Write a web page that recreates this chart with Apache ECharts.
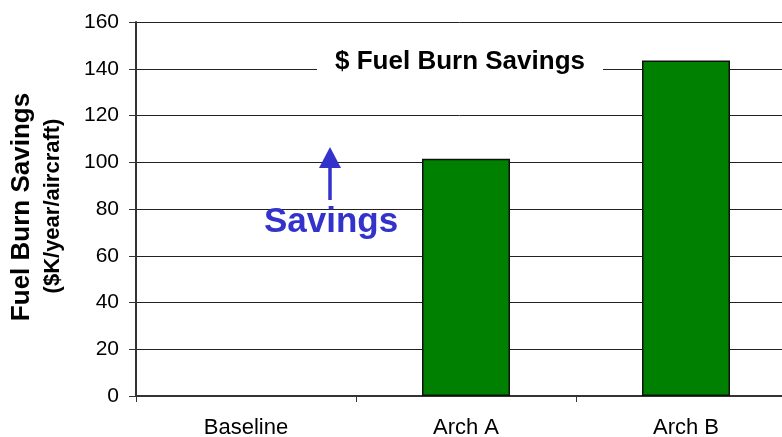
<!DOCTYPE html>
<html>
  <head>
    <meta charset="utf-8" />
    <script src="https://cdn.jsdelivr.net/npm/echarts@6/dist/echarts.min.js"></script>
  </head>
  <body>
    <style>
      #main, html, body {
        width: 100%;
        height: 100%;
        margin: 0;
        overflow: hidden;
        background: #fff;
      }
    </style>
    <div id="main"></div>
    <script type="text/javascript">
      // data
      var categories = ['Baseline', 'Arch A', 'Arch B'];
      var savings = [0, 101.5, 143.5];
      var yTicks = [0, 20, 40, 60, 80, 100, 120, 140, 160];

      var myChart = echarts.init(document.getElementById('main'));
      var font = 'Arial, "Liberation Sans", sans-serif';

      var option = {
        animation: false,
        // the third category runs past the right edge of the picture
        grid: { left: 136, width: 660, top: 22, bottom: 41, outerBoundsMode: 'none' },
        xAxis: {
          type: 'category',
          data: categories,
          axisLine: { lineStyle: { color: '#333', width: 2 } },
          axisTick: { show: true, length: 6, lineStyle: { color: '#333' } },
          axisLabel: { color: '#000', fontFamily: font, fontSize: 22, margin: 21 }
        },
        yAxis: {
          type: 'value',
          min: yTicks[0],
          max: yTicks[yTicks.length - 1],
          interval: 20,
          axisLine: { show: true, lineStyle: { color: '#333', width: 2 } },
          axisTick: { show: true, length: 7, lineStyle: { color: '#333' } },
          axisLabel: { color: '#000', fontFamily: font, fontSize: 21, margin: 17 },
          splitLine: { lineStyle: { color: '#222', width: 1 } }
        },
        series: [{
          type: 'bar',
          data: savings.map(function (v) {
            return { value: v, itemStyle: { borderWidth: v ? 1.5 : 0 } };
          }),
          barWidth: '40%',
          itemStyle: { color: '#008000', borderColor: '#111' }
        }],
        graphic: [
          {
            type: 'text', x: 460, y: 62, z: 100,
            style: {
              text: '$ Fuel Burn Savings', fill: '#000', font: 'bold 26px ' + font,
              align: 'center', verticalAlign: 'middle',
              backgroundColor: '#fff', padding: [4, 18, 4, 18]
            }
          },
          {
            type: 'text', x: 331, y: 222, z: 100,
            style: {
              text: 'Savings', fill: '#3333cc', font: 'bold 35px ' + font,
              align: 'center', verticalAlign: 'middle'
            }
          },
          {
            type: 'line', z: 100,
            shape: { x1: 330, y1: 200, x2: 330, y2: 165 },
            style: { stroke: '#3333cc', lineWidth: 3.5 }
          },
          {
            type: 'polygon', z: 100,
            shape: { points: [[330, 147], [319, 168], [341, 168]] },
            style: { fill: '#3333cc' }
          },
          {
            type: 'text', x: 22, y: 207, rotation: Math.PI / 2,
            style: {
              text: 'Fuel Burn Savings', fill: '#000', font: 'bold 26px ' + font,
              align: 'center', verticalAlign: 'middle'
            }
          },
          {
            type: 'text', x: 53, y: 206, rotation: Math.PI / 2,
            style: {
              text: '($K/year/aircraft)', fill: '#000', font: 'bold 22px ' + font,
              align: 'center', verticalAlign: 'middle'
            }
          }
        ]
      };

      myChart.setOption(option);
    </script>
  </body>
</html>
